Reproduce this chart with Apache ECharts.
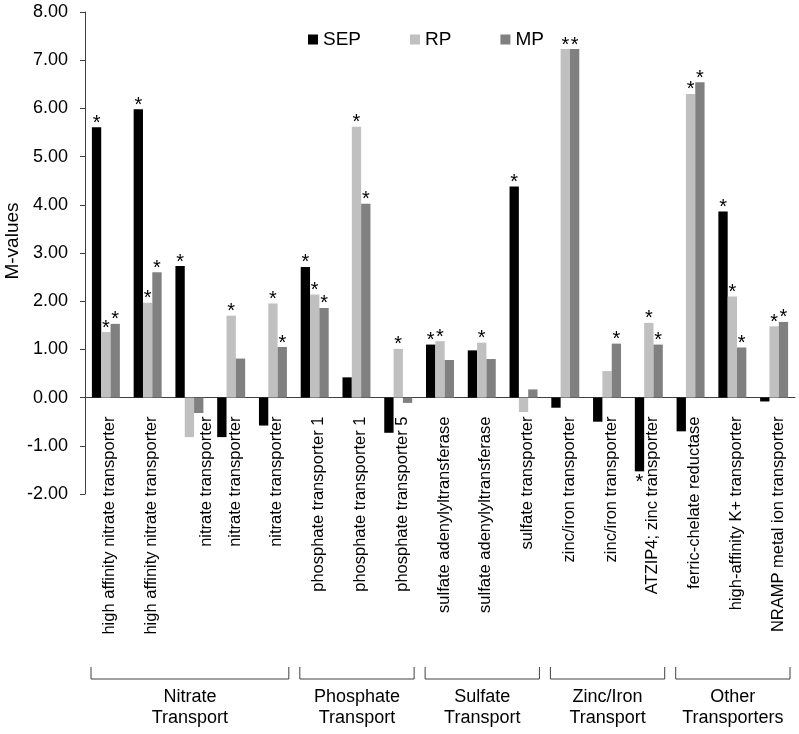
<!DOCTYPE html>
<html>
<head>
<meta charset="utf-8">
<script src="https://cdn.jsdelivr.net/npm/echarts@6/dist/echarts.min.js"></script>
<style>
html,body{margin:0;padding:0;background:#fff;}
#chart{width:799px;height:734px;}
</style>
</head>
<body>
<div id="chart"></div>
<script>
const categories = [
  'high affinity nitrate transporter',
  'high affinity nitrate transporter',
  'nitrate transporter',
  'nitrate transporter',
  'nitrate transporter',
  'phosphate transporter 1',
  'phosphate transporter 1',
  'phosphate transporter 5',
  'sulfate adenylyltransferase',
  'sulfate adenylyltransferase',
  'sulfate transporter',
  'zinc/iron transporter',
  'zinc/iron transporter',
  'ATZIP4; zinc transporter',
  'ferric-chelate reductase',
  'high-affinity K+ transporter',
  'NRAMP metal ion transporter'
];
const seriesNames = ['SEP', 'RP', 'MP'];
const sepValues = [5.61, 5.98, 2.73, -0.82, -0.58, 2.71, 0.42, -0.73, 1.10, 0.98, 4.38, -0.21, -0.50, -1.53, -0.70, 3.86, -0.08];
const rpValues  = [1.36, 1.97, -0.82, 1.70, 1.95, 2.14, 5.62, 1.01, 1.17, 1.14, -0.30, 7.23, 0.55, 1.55, 6.30, 2.10, 1.48];
const mpValues  = [1.53, 2.60, -0.32, 0.81, 1.05, 1.86, 4.02, -0.11, 0.78, 0.80, 0.17, 7.23, 1.12, 1.10, 6.54, 1.04, 1.57];
const sepSig = [1,1,1,0,0,1,0,0,1,0,1,0,0,1,0,1,0];
const rpSig  = [1,1,0,1,1,1,1,1,1,1,0,1,0,1,1,1,1];
const mpSig  = [1,1,0,0,1,1,1,0,0,0,0,1,1,1,1,1,1];
const groupNames = ['Nitrate\nTransport', 'Phosphate\nTransport', 'Sulfate\nTransport', 'Zinc/Iron\nTransport', 'Other\nTransporters'];
const groupStart = [0, 5, 8, 11, 14];
const groupEnd   = [4, 7, 10, 13, 16];
const yTicks = { min: -2, max: 8, interval: 1 };
const yName = 'M-values';

const FONT = '"Liberation Sans", Arial, sans-serif';
const colors = ['#000000', '#c0c0c0', '#808080'];

function buildData(vals, sig) {
  return vals.map((v, i) => ({
    value: v,
    label: {
      show: !!sig[i],
      position: v < 0 ? 'bottom' : 'top',
      distance: v < 0 ? 1 : -6,
      formatter: '*',
      fontSize: 20,
      color: '#000',
      fontFamily: FONT
    }
  }));
}

const chart = echarts.init(document.getElementById('chart'), null, { renderer: 'canvas' });
const allVals = [sepValues, rpValues, mpValues];
const allSig = [sepSig, rpSig, mpSig];
const labelFont = { fontSize: 16.5, color: '#000', fontFamily: FONT };

chart.setOption({
  animation: false,
  backgroundColor: '#ffffff',
  textStyle: { fontFamily: FONT },
  grid: { left: 85, right: 4, top: 12, bottom: 240, containLabel: false, outerBoundsMode: 'none' },
  legend: {
    data: seriesNames,
    left: 303, top: 25,
    itemWidth: 10, itemHeight: 10, itemGap: 49,
    icon: 'rect',
    textStyle: { fontSize: 19, color: '#000', fontFamily: FONT }
  },
  xAxis: {
    type: 'category',
    data: categories,
    axisLine: { onZero: true, lineStyle: { color: '#404040', width: 1 } },
    axisTick: { show: false },
    axisLabel: Object.assign({
      rotate: 90, interval: 0, margin: 19,
      // labels whose centre bar dips well below zero are nudged clear of it
      formatter: (v, i) => (rpValues[i] < -0.5 ? '{w|' : '{n|') + v + '}',
      rich: {
        n: Object.assign({ padding: [8, 0, 0, 0] }, labelFont),
        w: Object.assign({ padding: [34, 0, 0, 0] }, labelFont)
      }
    }, labelFont),
    splitLine: { show: false }
  },
  yAxis: {
    type: 'value',
    min: yTicks.min, max: yTicks.max, interval: yTicks.interval,
    axisLine: { show: true, lineStyle: { color: '#404040', width: 1 } },
    axisTick: { show: true, inside: false, length: 5, lineStyle: { color: '#404040' } },
    axisLabel: { formatter: v => v.toFixed(2), margin: 17, fontSize: 18, color: '#000', fontFamily: FONT },
    splitLine: { show: false }
  },
  series: seriesNames.map((n, k) => ({
    name: n,
    type: 'bar',
    data: buildData(allVals[k], allSig[k]),
    barGap: '0%',
    barCategoryGap: '33%',
    itemStyle: { color: colors[k] }
  }))
});

// Category labels sit just below the zero line
const yZero = chart.convertToPixel({ yAxisIndex: 0 }, 0);
const yBottom = chart.convertToPixel({ yAxisIndex: 0 }, yTicks.min);
chart.setOption({ xAxis: { axisLabel: { margin: 19 - (yBottom - yZero) } } });

// Group brackets and labels, positioned from the category axis
const c0 = chart.convertToPixel({ xAxisIndex: 0 }, 0);
const c1 = chart.convertToPixel({ xAxisIndex: 0 }, 1);
const bandW = c1 - c0;
const yMid = chart.convertToPixel({ yAxisIndex: 0 }, 3);
const gfx = [{
  type: 'text',
  x: 13, y: yMid - 12, rotation: Math.PI / 2,
  style: { text: yName, fontSize: 19, fontFamily: FONT, fill: '#000', align: 'center', verticalAlign: 'middle' }
}];
const yLine = 679, yTop = 667;
groupNames.forEach((name, g) => {
  const xl = chart.convertToPixel({ xAxisIndex: 0 }, groupStart[g]) - bandW / 2 + 6;
  const xr = chart.convertToPixel({ xAxisIndex: 0 }, groupEnd[g]) + bandW / 2 - 5;
  gfx.push({
    type: 'polyline',
    shape: { points: [[xl, yTop], [xl, yLine], [xr, yLine], [xr, yTop]] },
    style: { stroke: '#404040', lineWidth: 1, fill: null }
  });
  gfx.push({
    type: 'text',
    x: (xl + xr) / 2, y: 708,
    style: { text: name, fontSize: 18, fontFamily: FONT, fill: '#000', align: 'center', verticalAlign: 'middle', lineHeight: 21 }
  });
});
chart.setOption({ graphic: gfx });
</script>
</body>
</html>
